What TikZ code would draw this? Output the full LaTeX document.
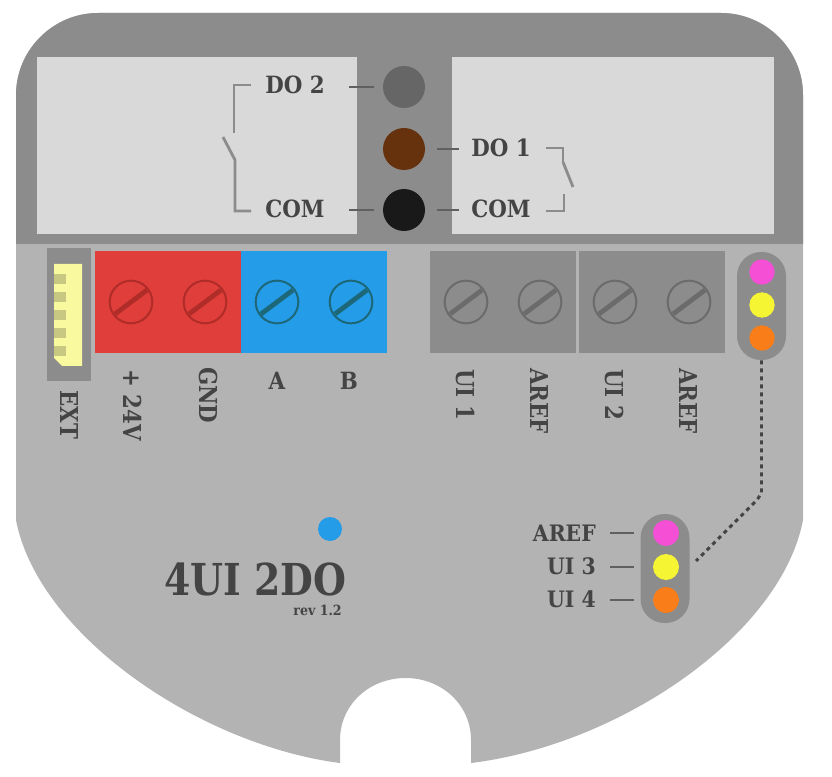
\documentclass[tikz,border=0pt]{standalone}
\usepackage{fontspec}
\setmainfont{DejaVu Serif Condensed}[BoldFont={DejaVu Serif Condensed Bold}]
\usetikzlibrary{calc}
\definecolor{band}{HTML}{8C8C8C}
\definecolor{bodyc}{HTML}{B3B3B3}
\definecolor{panel}{HTML}{D9D9D9}
\definecolor{ink}{HTML}{444444}
\definecolor{redb}{HTML}{E03E3A}
\definecolor{blueb}{HTML}{259CE8}
\definecolor{mag}{HTML}{F44FD5}
\definecolor{yel}{HTML}{F5F533}
\definecolor{ora}{HTML}{F97E1A}
\definecolor{redscrew}{HTML}{B02C28}
\definecolor{bluescrew}{HTML}{1C6878}
\definecolor{greyscrew}{HTML}{6B6B6B}
\definecolor{conny}{HTML}{F9F9A0}
\definecolor{pincol}{HTML}{C9C882}
\newcommand{\bodypath}{(16,95) .. controls (16,50) and (53,13) .. (98,13) -- (721,13) .. controls (766,13) and (803,50) .. (803,95) -- (803,520)
 .. controls (781,635) and (619,745) .. (471,763)
 -- (471,740) .. controls (471,705) and (442,678) .. (405.5,678) .. controls (369,678) and (340,705) .. (340,740) -- (340,763)
 .. controls (200,745) and (38,635) .. (16,520) -- cycle}
\tikzset{
 x=0.75pt,y=-0.75pt,
 lbl/.style={text=ink,inner sep=0pt,font=\fontsize{17.8}{20}\selectfont\bfseries},
 lblb/.style={text=ink,inner sep=0pt,font=\fontsize{17}{20}\selectfont\bfseries},
 vlbl/.style={text=ink,inner sep=0pt,font=\fontsize{18.5}{20}\selectfont\bfseries,transform shape,rotate=-90,anchor=west,xscale=.96},
 led/.style={circle,inner sep=0pt,minimum size=#1,draw=none},
 block/.style={inner sep=0pt,draw=none,anchor=north west},
 tick/.style={draw=ink!85,line width=2.1pt},
 sw/.style={draw=band,line width=2.1pt},
 screw/.style={circle,inner sep=0pt,minimum size=32pt,draw=#1,line width=1.5pt},
 slot/.style={draw=#1,line width=3.6pt},
 conn/.style={draw=ink,line width=2.2pt,dash pattern=on 3pt off 3pt}
}
\newcommand{\screwat}[3]{% name, x, colour
 \node[screw=#3] (#1) at (#2,302) {};
 \draw[slot=#3] ($(#1)+(-16,12)$) -- ($(#1)+(16,-12)$);
}
\begin{document}
\begin{tikzpicture}
\useasboundingbox (0,0) rectangle (832,777);
\fill[white] (0,0) rectangle (832,777);
\fill[bodyc] \bodypath;
\begin{scope}
 \clip \bodypath;
 \fill[band] (0,0) rectangle (832,244);
\end{scope}
\fill[panel] (37,57) rectangle (357,234);
\fill[panel] (452,57) rectangle (774,234);
% LEDs
\node[led=31.5pt,fill=black!60] (do2) at (404,87) {};
\node[led=31.5pt,fill={rgb,255:red,102;green,50;blue,14}] (do1) at (404,149) {};
\node[led=31.5pt,fill=black!90] (com) at (404,210) {};
% labels
\node[lbl,anchor=base west] (ldo2) at (265,94) {DO 2};
\node[lbl,anchor=base west] (lcoml) at (265,218) {COM};
\node[lbl,anchor=base west] (ldo1) at (471,157) {DO 1};
\node[lbl,anchor=base west] (lcomr) at (471,218) {COM};
\draw[tick] (349,87) -- (do2.west) [shorten >=9*0.75pt];
\draw[tick] (349,210) -- (com.west) [shorten >=9*0.75pt];
\draw[tick,shorten <=12*0.75pt,shorten >=12*0.75pt] (do1.east) -- (ldo1.west |- do1.center);
\draw[tick,shorten <=12*0.75pt,shorten >=12*0.75pt] (com.east) -- (lcomr.west |- com.center);
% switches
\draw[sw] (ldo2.west |- do2.center) ++(-14,-2) -- (234,85) -- (234,133);
\draw[sw] (223,137) -- (235,160) -- (235,211) -- (251,211);
\draw[sw] (546,148) -- (563,148) -- (563,162);
\draw[sw] (563,162) -- (573,187);
\draw[sw] (546,211) -- (564,211) -- (564,194);
% EXT
\node[block,fill=band,minimum width=33pt,minimum height=99.75pt] (extb) at (47,248) {};
\fill[conny] (54,264) -- (82,264) -- (82,366) -- (62,366) -- (54,358) -- cycle;
\foreach \yy in {274,292,310,328,346} \fill[pincol] (54,\yy) rectangle (66,\yy+10);
% terminal blocks
\node[block,fill=redb,minimum width=109.5pt,minimum height=76.5pt] (rb) at (95,251) {};
\node[block,fill=blueb,minimum width=109.5pt,minimum height=76.5pt] (bb) at (241,251) {};
\node[block,fill=band,minimum width=109.5pt,minimum height=76.5pt] (g1) at (430,251) {};
\node[block,fill=band,minimum width=109.5pt,minimum height=76.5pt] (g2) at (579,251) {};
\screwat{s1}{131}{redscrew}
\screwat{s2}{205}{redscrew}
\screwat{s3}{277}{bluescrew}
\screwat{s4}{351}{bluescrew}
\screwat{s5}{466}{greyscrew}
\screwat{s6}{540}{greyscrew}
\screwat{s7}{615}{greyscrew}
\screwat{s8}{689}{greyscrew}
% rotated labels
\node[vlbl] (lext) at (69,390) {EXT};
\node[vlbl] (l24) at (133,369) {+ 24V};
\node[vlbl] (lgnd) at (208,367) {GND};
\node[lbl] (la) at (277,381) {A};
\node[lbl] (lb) at (349,381) {B};
\node[vlbl] (lu1) at (465,369) {UI 1};
\node[vlbl] (la1) at (539,368) {AREF};
\node[vlbl] (lu2) at (614,369) {UI 2};
\node[vlbl] (la2) at (688,368) {AREF};
% top strip
\node[rounded corners=18pt,fill=band,minimum width=36.75pt,minimum height=81pt,inner sep=0pt] (st) at (761.5,306) {};
\node[led=19pt,fill=mag] (t1) at (762,272) {};
\node[led=19pt,fill=yel] (t2) at (762,305) {};
\node[led=19pt,fill=ora] (t3) at (762,338) {};
% lower strip
\node[rounded corners=18pt,fill=band,minimum width=36.75pt,minimum height=81.75pt,inner sep=0pt] (sb) at (665,568.5) {};
\node[led=19.5pt,fill=mag] (b1) at (666,533) {};
\node[led=19.5pt,fill=yel] (b2) at (666,567) {};
\node[led=19.5pt,fill=ora] (b3) at (666,600) {};
\node[lblb,anchor=base east] (laref) at (596,541) {AREF};
\node[lblb,anchor=base east] (lu3) at (596,574) {UI 3};
\node[lblb,anchor=base east] (lu4) at (596,607) {UI 4};
\draw[tick,shorten <=14*0.75pt,shorten >=6*0.75pt] (laref.east |- b1.center) -- (sb.west |- b1.center);
\draw[tick,shorten <=14*0.75pt,shorten >=6*0.75pt] (lu3.east |- b2.center) -- (sb.west |- b2.center);
\draw[tick,shorten <=14*0.75pt,shorten >=6*0.75pt] (lu4.east |- b3.center) -- (sb.west |- b3.center);
\coordinate (ce) at (696,561);
\draw[conn] (st.south) -- (761.5,493) -- (757,500) -- (ce);
% brand
\node[led=18pt,fill=blueb] (bd) at (330,529) {};
\node[text=ink,inner sep=0pt,anchor=base west,transform shape,xscale=.955,font=\fontsize{33}{36}\selectfont\bfseries] (title) at (164,595) {4UI 2DO};
\node[text=ink,inner sep=0pt,anchor=base east,font=\fontsize{10.5}{12}\selectfont\bfseries] (rev) at (342,615) {rev 1.2};
\end{tikzpicture}
\end{document}
